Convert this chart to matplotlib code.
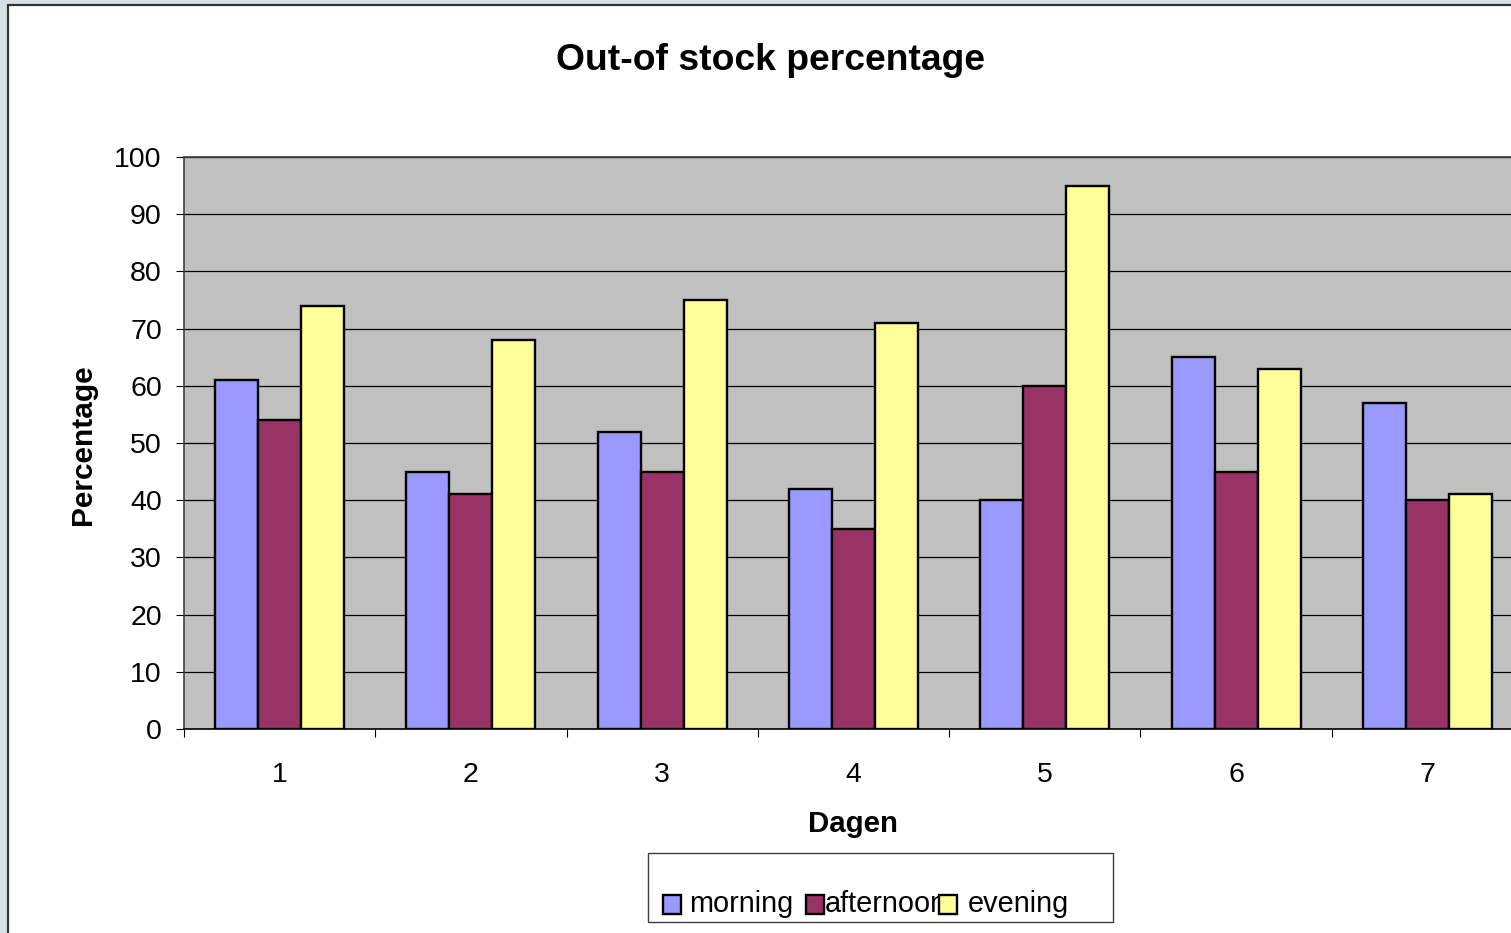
import matplotlib
matplotlib.use("Agg")
import matplotlib.pyplot as plt
import numpy as np
from matplotlib.patches import Rectangle

plt.rcParams['font.family'] = ['Liberation Sans', 'DejaVu Sans']

days = ["1", "2", "3", "4", "5", "6", "7"]
series_names = ["morning", "afternoon", "evening"]
morning = [61, 45, 52, 42, 40, 65, 57]
afternoon = [54, 41, 45, 35, 60, 45, 40]
evening = [74, 68, 75, 71, 95, 63, 41]
series_colors = ["#9999FF", "#993366", "#FFFF99"]
y_ticks = [0, 10, 20, 30, 40, 50, 60, 70, 80, 90, 100]

W, H = 1511, 933
fig = plt.figure(figsize=(W / 100, H / 100), dpi=100)
fig.patch.set_facecolor("#D6E0E6")

# white chart sheet with dark outline, running off the right and bottom edges
sheet = Rectangle((8 / W, -0.05), 1.1, 1 - 5 / H + 0.05, transform=fig.transFigure,
                  facecolor="white", edgecolor="#333333", linewidth=1.6, zorder=-10)
fig.patches.append(sheet)

left, right = 184 / W, 1523 / W
bottom, top = (H - 729) / H, (H - 157) / H
ax = fig.add_axes([left, bottom, right - left, top - bottom])
ax.set_facecolor("#C0C0C0")

x = np.arange(1, len(days) + 1)
bw = 0.225
for i, (vals, col, name) in enumerate(zip([morning, afternoon, evening], series_colors, series_names)):
    ax.bar(x + (i - 1) * bw, vals, width=bw, color=col, edgecolor="black",
           linewidth=1.7, label=name, zorder=3)

ax.set_xlim(0.5, len(days) + 0.5)
ax.set_ylim(0, 100)
ax.set_yticks(y_ticks)
ax.yaxis.grid(True, color="black", linewidth=0.9, zorder=1)
ax.set_axisbelow(True)

ax.set_xticks(x)
ax.set_xticklabels(days)
ax.set_xticks(np.arange(0.5, len(days) + 1.0, 1.0), minor=True)
ax.tick_params(axis="x", which="major", length=0, pad=24, labelsize=20.5)
ax.tick_params(axis="x", which="minor", length=6, width=0.8, color="black", direction="out")
ax.tick_params(axis="y", length=6, width=0.8, direction="out", pad=10, labelsize=20.5)

for s in ["top", "right", "left"]:
    ax.spines[s].set_color("#404040")
    ax.spines[s].set_linewidth(1.2)
ax.spines["bottom"].set_color("black")
ax.spines["bottom"].set_linewidth(1.2)

fig.text(771 / W, 1 - 61 / H, "Out-of stock percentage", ha="center", va="center",
         fontsize=26.8, fontweight="bold")
fig.text(853 / W, 1 - 824 / H, "Dagen", ha="center", va="center",
         fontsize=21.2, fontweight="bold")
fig.text(83 / W, 1 - 445 / H, "Percentage", ha="center", va="center",
         fontsize=21.5, fontweight="bold", rotation=90)

# legend box
fig.patches.append(Rectangle((648 / W, 1 - 922 / H), (1113 - 648) / W, (922 - 853) / H,
                             transform=fig.transFigure, facecolor="white",
                             edgecolor="#404040", linewidth=1.0, zorder=1))
sq_x = [663, 806, 939]
txt_x = [689, 825, 968]
for name, col, sx, tx in zip(series_names, series_colors, sq_x, txt_x):
    fig.text(tx / W, 1 - 912 / H, name, ha="left", va="baseline", fontsize=20.8, zorder=2)
for name, col, sx, tx in zip(series_names, series_colors, sq_x, txt_x):
    fig.patches.append(Rectangle((sx / W, 1 - 914 / H), 18 / W, 19 / H,
                                 transform=fig.transFigure, facecolor=col,
                                 edgecolor="black", linewidth=1.7, zorder=3))

fig.savefig("out.png", dpi=100, facecolor=fig.get_facecolor())
